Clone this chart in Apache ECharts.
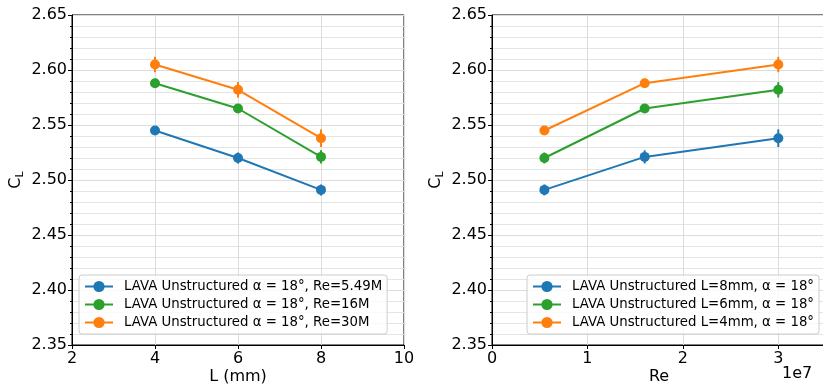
<!DOCTYPE html>
<html>
<head>
<meta charset="utf-8">
<script src="https://cdn.jsdelivr.net/npm/echarts@6/dist/echarts.min.js"></script>
<style>
  html, body { margin: 0; padding: 0; background: #fff; }
  #chart { width: 823px; height: 385px; }
</style>
</head>
<body>
<div id="chart"></div>
<script>
// values
const lengthsMm = [4, 6, 8];
const reValues = [5.49e6, 1.6e7, 3.0e7];

// C_L at L = 4, 6, 8 mm
const clRe549 = [2.545, 2.520, 2.491];
const clRe16 = [2.588, 2.565, 2.521];
const clRe30 = [2.605, 2.582, 2.538];

// half error bar heights
const errRe549 = [0.004, 0.005, 0.005];
const errRe16 = [0.004, 0.004, 0.006];
const errRe30 = [0.007, 0.007, 0.008];

const leftNames = [
  'LAVA Unstructured α = 18°, Re=5.49M',
  'LAVA Unstructured α = 18°, Re=16M',
  'LAVA Unstructured α = 18°, Re=30M'
];
const rightNames = [
  'LAVA Unstructured L=8mm, α = 18°',
  'LAVA Unstructured L=6mm, α = 18°',
  'LAVA Unstructured L=4mm, α = 18°'
];
const yTicks = [2.35, 2.65, 0.05];

const BLUE = '#1f77b4', GREEN = '#2ca02c', ORANGE = '#ff7f0e';
const FONT = 'DejaVu Sans';

const chart = echarts.init(document.getElementById('chart'));

function lineSeries(name, xs, ys, color, idx) {
  return {
    name: name,
    type: 'line',
    xAxisIndex: idx,
    yAxisIndex: idx,
    data: xs.map((x, i) => [x, ys[i]]),
    symbol: 'circle',
    symbolSize: 10,
    z: 3,
    lineStyle: { color: color, width: 2 },
    itemStyle: { color: color },
    emphasis: { disabled: true }
  };
}

function errSeries(xs, ys, es, color, idx) {
  return {
    type: 'custom',
    xAxisIndex: idx,
    yAxisIndex: idx,
    z: 2,
    silent: true,
    data: xs.map((x, i) => [x, ys[i] - es[i], ys[i] + es[i]]),
    encode: { x: 0, y: [1, 2] },
    renderItem: function (params, api) {
      const p1 = api.coord([api.value(0), api.value(1)]);
      const p2 = api.coord([api.value(0), api.value(2)]);
      return {
        type: 'line',
        shape: { x1: p1[0], y1: p1[1], x2: p2[0], y2: p2[1] },
        style: { stroke: color, lineWidth: 2 }
      };
    }
  };
}

function yAxis(idx) {
  return {
    type: 'value',
    gridIndex: idx,
    min: yTicks[0],
    max: yTicks[1],
    interval: yTicks[2],
    name: '{c|C}{s|L}',
    nameLocation: 'middle',
    nameGap: 46,
    nameRotate: 90,
    nameMoveOverlap: false,
    nameTextStyle: {
      rich: {
        c: { fontFamily: FONT, fontSize: 16, lineHeight: 18, color: '#000', verticalAlign: 'top' },
        s: { fontFamily: FONT, fontSize: 11, lineHeight: 12, color: '#000', verticalAlign: 'bottom', padding: [8, 0, 0, 0] }
      }
    },
    axisLine: { show: true, lineStyle: { color: '#000', width: 1 } },
    axisTick: { show: true, length: 4, lineStyle: { color: '#000' } },
    minorTick: { show: true, splitNumber: 5, length: 2, lineStyle: { color: '#000' } },
    axisLabel: {
      color: '#000', fontFamily: FONT, fontSize: 16, margin: 5,
      formatter: v => v.toFixed(2)
    },
    splitLine: { show: true, lineStyle: { color: '#dcdcdc', width: 1 } },
    minorSplitLine: { show: true, lineStyle: { color: '#e4e4e4', width: 1 } }
  };
}

const legendCommon = {
  orient: 'vertical',
  itemWidth: 28,
  itemHeight: 14,
  itemGap: 5,
  padding: 5,
  backgroundColor: 'rgba(255,255,255,0.8)',
  borderColor: '#cccccc',
  borderWidth: 1,
  borderRadius: 3,
  textStyle: { color: '#000', fontFamily: FONT, fontSize: 13.3, padding: [0, 0, 0, 6] }
};

const option = {
  animation: false,
  backgroundColor: '#fff',
  grid: [
    { left: 72, top: 15, width: 332, height: 330, outerBoundsMode: 'none', show: true, borderColor: '#000', borderWidth: 1, backgroundColor: '#fff' },
    { left: 492, top: 15, width: 334, height: 330, outerBoundsMode: 'none', show: true, borderColor: '#000', borderWidth: 1, backgroundColor: '#fff' }
  ],
  xAxis: [
    {
      type: 'value', gridIndex: 0, min: 2, max: 10, interval: 2,
      name: 'L (mm)', nameLocation: 'middle', nameGap: 24, nameMoveOverlap: false,
      nameTextStyle: { color: '#000', fontFamily: FONT, fontSize: 16 },
      axisLine: { show: true, onZero: false, lineStyle: { color: '#000' } },
      axisTick: { show: true, length: 4, lineStyle: { color: '#000' } },
      axisLabel: { color: '#000', fontFamily: FONT, fontSize: 16, margin: 6 },
      splitLine: { show: true, lineStyle: { color: '#dcdcdc', width: 1 } }
    },
    {
      type: 'value', gridIndex: 1, min: 0, max: 3.5e7, interval: 1e7,
      name: 'Re', nameLocation: 'middle', nameGap: 24, nameMoveOverlap: false,
      nameTextStyle: { color: '#000', fontFamily: FONT, fontSize: 16 },
      axisLine: { show: true, onZero: false, lineStyle: { color: '#000' } },
      axisTick: { show: true, length: 4, lineStyle: { color: '#000' } },
      axisLabel: {
        color: '#000', fontFamily: FONT, fontSize: 16, margin: 6,
        formatter: v => (v % 1e7 === 0 ? String(v / 1e7) : '')
      },
      splitLine: { show: true, lineStyle: { color: '#dcdcdc', width: 1 } }
    }
  ],
  yAxis: [yAxis(0), yAxis(1)],
  legend: [
    Object.assign({}, legendCommon, { left: 79, top: 275, data: leftNames }),
    Object.assign({}, legendCommon, { left: 527, top: 275, data: rightNames })
  ],
  graphic: [
    {
      type: 'text', left: 782, top: 366,
      style: { text: '1e7', fill: '#000', font: '16px "DejaVu Sans"' }
    }
  ],
  series: [
    lineSeries(leftNames[0], lengthsMm, clRe549, BLUE, 0),
    lineSeries(leftNames[1], lengthsMm, clRe16, GREEN, 0),
    lineSeries(leftNames[2], lengthsMm, clRe30, ORANGE, 0),
    lineSeries(rightNames[0], reValues, [clRe549[2], clRe16[2], clRe30[2]], BLUE, 1),
    lineSeries(rightNames[1], reValues, [clRe549[1], clRe16[1], clRe30[1]], GREEN, 1),
    lineSeries(rightNames[2], reValues, [clRe549[0], clRe16[0], clRe30[0]], ORANGE, 1),
    errSeries(lengthsMm, clRe549, errRe549, BLUE, 0),
    errSeries(lengthsMm, clRe16, errRe16, GREEN, 0),
    errSeries(lengthsMm, clRe30, errRe30, ORANGE, 0),
    errSeries(reValues, [clRe549[2], clRe16[2], clRe30[2]], [errRe549[2], errRe16[2], errRe30[2]], BLUE, 1),
    errSeries(reValues, [clRe549[1], clRe16[1], clRe30[1]], [errRe549[1], errRe16[1], errRe30[1]], GREEN, 1),
    errSeries(reValues, [clRe549[0], clRe16[0], clRe30[0]], [errRe549[0], errRe16[0], errRe30[0]], ORANGE, 1)
  ]
};

chart.setOption(option);
</script>
</body>
</html>
